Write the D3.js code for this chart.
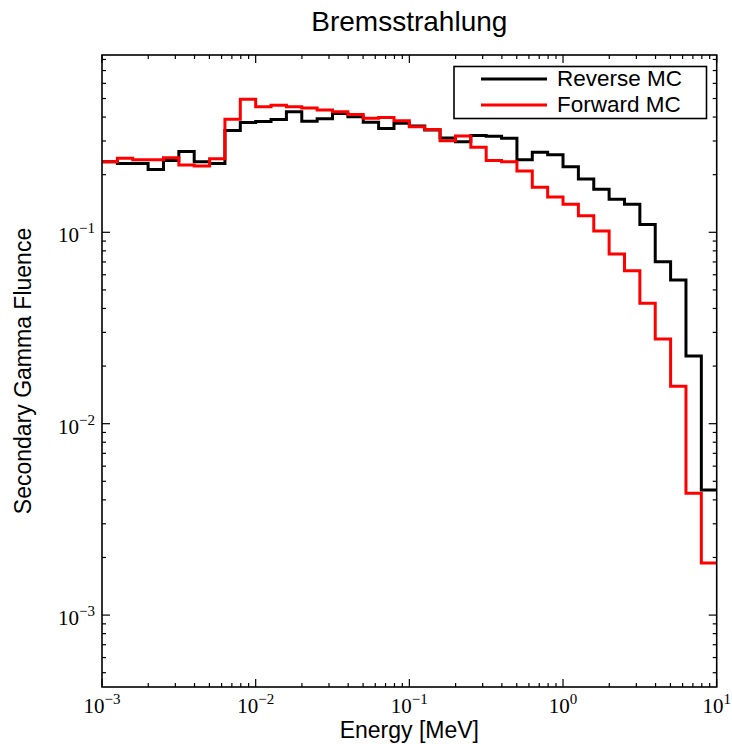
<!DOCTYPE html>
<html>
<head>
<meta charset="utf-8">
<script src="https://cdn.jsdelivr.net/npm/d3@7"></script>
<style>
  html, body { margin: 0; padding: 0; background: #fff; }
  svg { display: block; }
</style>
</head>
<body>
<svg id="chart" width="732" height="744"></svg>
<script>
// Histogram bins: 40 log-spaced bins, 10 per decade, from 1e-3 to 10 MeV
const binLogStart = -3;
const binLogStep = 0.1;
const binCount = 40;

// Secondary gamma fluence per bin
const reverseMC = [
  0.234, 0.229, 0.229, 0.213, 0.237, 0.264, 0.234, 0.229, 0.340, 0.375,
  0.379, 0.389, 0.427, 0.380, 0.392, 0.417, 0.402, 0.376, 0.349, 0.371,
  0.359, 0.342, 0.311, 0.297, 0.320, 0.318, 0.310, 0.239, 0.262, 0.254,
  0.220, 0.190, 0.168, 0.149, 0.140, 0.110, 0.0702, 0.0564, 0.0226, 0.00451
];
const forwardMC = [
  0.234, 0.244, 0.239, 0.239, 0.245, 0.225, 0.222, 0.242, 0.390, 0.495,
  0.453, 0.461, 0.453, 0.446, 0.436, 0.427, 0.413, 0.394, 0.398, 0.383,
  0.356, 0.344, 0.301, 0.319, 0.278, 0.237, 0.234, 0.209, 0.172, 0.153,
  0.140, 0.122, 0.1015, 0.077, 0.063, 0.0426, 0.0277, 0.0157, 0.00433, 0.00187
];

const seriesNames = ["Reverse MC", "Forward MC"];
const seriesColors = ["#000000", "#ff0000"];

const xDomain = [1e-3, 10];
const yDomain = [4.21e-4, 0.844];
const xTickExps = [-3, -2, -1, 0, 1];
const yTickExps = [-3, -2, -1];

const titleText = "Bremsstrahlung";
const xLabelText = "Energy [MeV]";
const yLabelText = "Secondary Gamma Fluence";

// Layout
const plot = { left: 102, right: 716.7, top: 55, bottom: 687 };
const svg = d3.select("#chart");

const x = d3.scaleLog().domain(xDomain).range([plot.left, plot.right]);
const y = d3.scaleLog().domain(yDomain).range([plot.bottom, plot.top]);

const edges = d3.range(binCount + 1).map(k => Math.pow(10, binLogStart + k * binLogStep));

svg.append("rect").attr("width", 732).attr("height", 744).attr("fill", "#fff");

svg.append("defs").append("clipPath").attr("id", "plotclip")
  .append("rect")
  .attr("x", plot.left).attr("y", plot.top)
  .attr("width", plot.right - plot.left).attr("height", plot.bottom - plot.top);

// Step lines
const stepLine = d3.line()
  .x(d => x(d[0]))
  .y(d => y(d[1]))
  .curve(d3.curveStepAfter);

function stepPoints(vals) {
  const pts = vals.map((v, i) => [edges[i], v]);
  pts.push([edges[binCount], vals[vals.length - 1]]);
  return pts;
}

const lines = svg.append("g").attr("clip-path", "url(#plotclip)");
[reverseMC, forwardMC].forEach((vals, i) => {
  lines.append("path")
    .attr("d", stepLine(stepPoints(vals)))
    .attr("fill", "none")
    .attr("stroke", seriesColors[i])
    .attr("stroke-width", 3)
    .attr("stroke-linejoin", "miter");
});

// Ticks (inward, on all four sides)
const majLen = 8, minLen = 4;
const ticksG = svg.append("g").attr("stroke", "#000").attr("stroke-width", 1.2);

function minorValues(domain) {
  const out = [];
  const lo = Math.floor(Math.log10(domain[0])), hi = Math.ceil(Math.log10(domain[1]));
  for (let e = lo; e <= hi; e++) {
    for (let m = 2; m <= 9; m++) {
      const v = m * Math.pow(10, e);
      if (v > domain[0] && v < domain[1]) out.push(v);
    }
  }
  return out;
}

const xMaj = xTickExps.map(e => Math.pow(10, e));
const yMaj = yTickExps.map(e => Math.pow(10, e));
const xMin = minorValues(xDomain);
const yMin = minorValues(yDomain);

function xTick(v, len) {
  const px = x(v);
  ticksG.append("line").attr("x1", px).attr("x2", px).attr("y1", plot.bottom).attr("y2", plot.bottom - len);
  ticksG.append("line").attr("x1", px).attr("x2", px).attr("y1", plot.top).attr("y2", plot.top + len);
}
function yTick(v, len) {
  const py = y(v);
  ticksG.append("line").attr("y1", py).attr("y2", py).attr("x1", plot.left).attr("x2", plot.left + len);
  ticksG.append("line").attr("y1", py).attr("y2", py).attr("x1", plot.right).attr("x2", plot.right - len);
}
xMaj.forEach(v => xTick(v, majLen));
xMin.forEach(v => xTick(v, minLen));
yMaj.forEach(v => yTick(v, majLen));
yMin.forEach(v => yTick(v, minLen));

// Frame
svg.append("rect")
  .attr("x", plot.left).attr("y", plot.top)
  .attr("width", plot.right - plot.left).attr("height", plot.bottom - plot.top)
  .attr("fill", "none").attr("stroke", "#000").attr("stroke-width", 1.6);

// Tick labels (power-of-ten notation)
const tickFont = "'Liberation Serif', 'DejaVu Serif', serif";
function powLabel(g, e, px, py, anchor) {
  const t = g.append("text")
    .attr("x", px).attr("y", py)
    .attr("text-anchor", anchor)
    .attr("font-family", tickFont)
    .attr("font-size", 21)
    .attr("fill", "#000");
  t.append("tspan").text("10");
  t.append("tspan").attr("dy", -9).attr("font-size", 15).text(e < 0 ? "\u2212" + (-e) : String(e));
}
const labelsG = svg.append("g");
xTickExps.forEach(e => powLabel(labelsG, e, x(Math.pow(10, e)), 713, "middle"));
yTickExps.forEach(e => powLabel(labelsG, e, 95, y(Math.pow(10, e)) + 10, "end"));

// Title and axis labels
const sans = "'Liberation Sans', Arial, sans-serif";
svg.append("text")
  .attr("x", (plot.left + plot.right) / 2).attr("y", 31)
  .attr("text-anchor", "middle")
  .attr("font-family", sans).attr("font-size", 28)
  .text(titleText);

svg.append("text")
  .attr("x", (plot.left + plot.right) / 2).attr("y", 738)
  .attr("text-anchor", "middle")
  .attr("font-family", sans).attr("font-size", 23)
  .text(xLabelText);

svg.append("text")
  .attr("transform", `translate(31,${(plot.top + plot.bottom) / 2}) rotate(-90)`)
  .attr("text-anchor", "middle")
  .attr("font-family", sans).attr("font-size", 23)
  .text(yLabelText);

// Legend
const legend = svg.append("g");
legend.append("rect")
  .attr("x", 454).attr("y", 66.5).attr("width", 252.5).attr("height", 52)
  .attr("fill", "#fff").attr("stroke", "#000").attr("stroke-width", 1.6);
seriesNames.forEach((name, i) => {
  const ly = 79 + i * 26;
  legend.append("line")
    .attr("x1", 481).attr("x2", 547).attr("y1", ly).attr("y2", ly)
    .attr("stroke", seriesColors[i]).attr("stroke-width", 3);
  legend.append("text")
    .attr("x", 557).attr("y", ly + 7)
    .attr("font-family", sans).attr("font-size", 22.5)
    .text(name);
});
</script>
</body>
</html>
